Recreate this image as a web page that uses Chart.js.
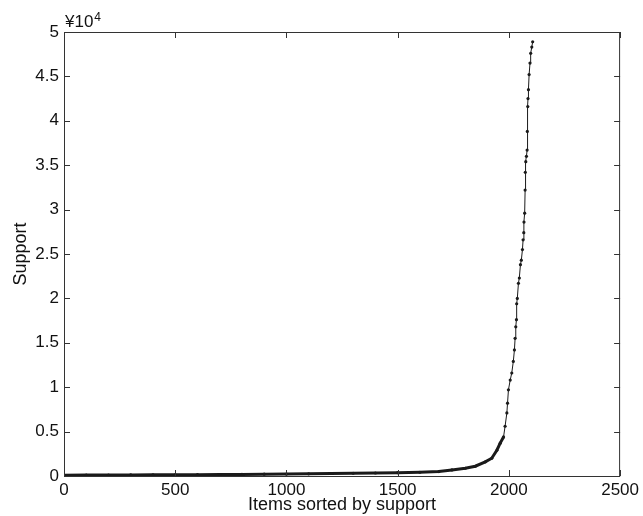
<!DOCTYPE html>
<html>
<head>
<meta charset="utf-8">
<script src="https://cdn.jsdelivr.net/npm/chart.js@4.4.0/dist/chart.umd.min.js"></script>
<style>
  html, body { margin: 0; padding: 0; background: #fff; }
  #wrap { width: 643px; height: 516px; }
</style>
</head>
<body>
<div id="wrap"><canvas id="myChart"></canvas></div>
<script>
// items sorted by support (x) and support in units of 10^4 (y)
const items = [0, 100, 200, 300, 400, 500, 600, 700, 800, 900, 1000, 1100, 1200, 1300, 1400, 1500, 1600,
  1685, 1744, 1804, 1849, 1894, 1923, 1946, 1961, 1976, 1983, 1991, 1994, 1998, 2006, 2013, 2020, 2025,
  2028, 2031, 2034, 2035, 2038, 2043, 2047, 2052, 2056, 2061, 2064, 2067, 2068, 2071, 2073, 2074, 2076,
  2079, 2082, 2083, 2085, 2086, 2088, 2091, 2095, 2098, 2103, 2107];
const support = [0.008, 0.010, 0.011, 0.012, 0.013, 0.014, 0.015, 0.016, 0.018, 0.020, 0.022, 0.025, 0.028,
  0.031, 0.034, 0.037, 0.042, 0.050, 0.068, 0.087, 0.11, 0.16, 0.20, 0.29, 0.37, 0.44, 0.56, 0.71, 0.82,
  0.97, 1.08, 1.16, 1.29, 1.42, 1.55, 1.68, 1.76, 1.94, 2.00, 2.17, 2.23, 2.38, 2.43, 2.55, 2.66, 2.74,
  2.86, 2.96, 3.22, 3.42, 3.54, 3.60, 3.67, 3.88, 4.16, 4.25, 4.35, 4.52, 4.65, 4.76, 4.83, 4.89];
const xTicks = [0, 500, 1000, 1500, 2000, 2500];
const yTicks = [0, 0.5, 1, 1.5, 2, 2.5, 3, 3.5, 4, 4.5, 5];

const FONT = "'Liberation Sans', Arial, Helvetica, sans-serif";

// box round the plot, inward ticks on all four sides, exponent label
const frame = {
  id: 'frame',
  afterDatasetsDraw(chart) {
    const { ctx, chartArea: a, scales } = chart;
    ctx.save();
    ctx.strokeStyle = '#333';
    ctx.lineWidth = 1;
    ctx.strokeRect(a.left + 0.5, a.top + 0.5, a.right - a.left - 1, a.bottom - a.top);
    ctx.beginPath();
    xTicks.forEach(v => {
      const px = Math.round(scales.x.getPixelForValue(v)) + 0.5;
      ctx.moveTo(px, a.bottom); ctx.lineTo(px, a.bottom - 6);
      ctx.moveTo(px, a.top); ctx.lineTo(px, a.top + 6);
    });
    yTicks.forEach(v => {
      const py = Math.round(scales.y.getPixelForValue(v)) + 0.5;
      ctx.moveTo(a.left, py); ctx.lineTo(a.left + 6, py);
      ctx.moveTo(a.right, py); ctx.lineTo(a.right - 6, py);
    });
    ctx.stroke();

    ctx.fillStyle = '#111';
    ctx.textBaseline = 'alphabetic';
    ctx.textAlign = 'left';
    ctx.font = '17px ' + FONT;
    ctx.fillText('¥10', a.left + 1, 27);
    const w = ctx.measureText('¥10').width;
    ctx.font = '12px ' + FONT;
    ctx.fillText('4', a.left + 1 + w + 1, 21);
    ctx.restore();
  }
};

new Chart(document.getElementById('myChart'), {
  type: 'line',
  data: {
    datasets: [{
      data: items.map((x, i) => ({ x: x, y: support[i] })),
      borderColor: '#1a1a1a',
      borderWidth: 1,
      pointRadius: 1.6,
      pointBackgroundColor: '#1a1a1a',
      pointBorderWidth: 0,
      tension: 0,
      segment: {
        borderWidth: c => c.p0.parsed.x < 1965 ? 3 : 1
      }
    }]
  },
  options: {
    responsive: true,
    maintainAspectRatio: false,
    animation: false,
    layout: { padding: { top: 32, right: 21, left: 0, bottom: 0 } },
    plugins: { legend: { display: false }, tooltip: { enabled: false } },
    scales: {
      x: {
        type: 'linear', min: 0, max: 2500,
        afterBuildTicks: s => { s.ticks = xTicks.map(v => ({ value: v })); },
        afterFit: s => { s.height = 40; },
        grid: { display: false, drawTicks: false },
        border: { display: false },
        ticks: { color: '#111', padding: 4, maxRotation: 0, font: { family: FONT, size: 17 },
          callback: v => String(v) },
        title: { display: true, text: 'Items sorted by support', color: '#111',
          padding: { top: 0, bottom: 0 }, font: { family: FONT, size: 18 } }
      },
      y: {
        type: 'linear', min: 0, max: 5,
        afterBuildTicks: s => { s.ticks = yTicks.map(v => ({ value: v })); },
        afterFit: s => { s.width = 64; },
        grid: { display: false, drawTicks: false },
        border: { display: false },
        ticks: { color: '#111', padding: 5, font: { family: FONT, size: 17 },
          callback: v => String(v) },
        title: { display: true, text: 'Support', color: '#111',
          padding: { top: 10, bottom: 0 }, font: { family: FONT, size: 18 } }
      }
    }
  },
  plugins: [frame]
});
</script>
</body>
</html>
